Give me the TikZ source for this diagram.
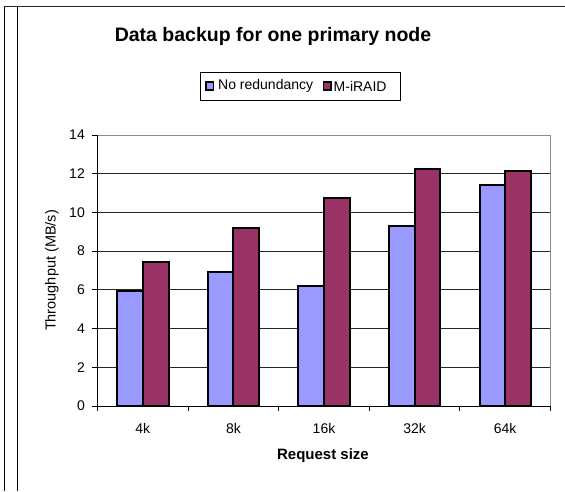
\documentclass[tikz,border=0pt]{standalone}
\usepackage{fontspec}
\setmainfont{Liberation Sans}
\definecolor{barblue}{HTML}{9999FF}
\definecolor{barred}{HTML}{993366}
\begin{document}
\begin{tikzpicture}[x=1pt,y=-1pt,
  gridline/.style={line width=0.9pt, black!85},
  barbox/.style={draw=black, line width=2pt},
  ticklab/.style={font=\fontsize{14}{16}\selectfont, inner sep=0pt},
  axistitle/.style={font=\bfseries\fontsize{15}{17}\selectfont, inner sep=0pt},
  legtext/.style={font=\fontsize{14}{16}\selectfont, inner sep=0pt, anchor=west},
  legkey/.style={draw=black, line width=1.5pt}
]
\useasboundingbox (0,0) rectangle (565,491);
% outer frame lines
\draw[line width=1pt] (4,6) -- (4,491);
\draw[line width=1pt] (17,6) -- (17,491);
\draw[line width=1.8pt, black!85] (4,6.5) -- (565,6.5);

% title
\node[font=\bfseries\fontsize{19.5}{22}\selectfont, inner sep=0pt] (title) at (273,36) {Data backup for one primary node};

% legend
\draw[line width=0.8pt] (200,72.5) rectangle (400,100);
\draw[legkey, fill=barblue] (206,82) rectangle (213.5,90);
\node[legtext] (l1) at (218,86) {No redundancy};
\draw[legkey, fill=barred] (323.5,82) rectangle (331,90);
\node[legtext] (l2) at (333.5,86) {M-iRAID};

% gridlines
\foreach \v in {2,4,...,12} \draw[gridline] (97.5,{406-\v*19.357}) -- (550.5,{406-\v*19.357});
\draw[black!45, line width=1pt] (97.5,135) -- (550.5,135) -- (550.5,406);

% bars
\foreach \i/\a/\b in {0/5.96/7.44, 1/6.94/9.18, 2/6.21/10.72, 3/9.30/12.24, 4/11.41/12.15}{
  \pgfmathsetmacro{\c}{97.5+90.6*\i+45.3}
  \draw[barbox, fill=barblue] ({\c-25.7},406) rectangle (\c,{406-\a*19.357});
  \draw[barbox, fill=barred] (\c,406) rectangle ({\c+25.7},{406-\b*19.357});
}

% axes
\draw[line width=1pt] (97.5,135) -- (97.5,406) -- (550.5,406);
\foreach \v in {0,...,7} \draw[line width=1pt] (92,{406-2*\v*19.357}) -- (97.5,{406-2*\v*19.357});
\foreach \i in {0,...,5} \draw[line width=1pt] ({97.5+90.6*\i},406) -- ({97.5+90.6*\i},411);

% y labels
\foreach \v in {0,2,...,14} \node[ticklab, anchor=east] (y\v) at (85,{406-\v*19.357}) {\v};
% x labels
\foreach \i/\t in {0/4k,1/8k,2/16k,3/32k,4/64k} \node[ticklab] (x\i) at ({97.5+90.6*\i+45.3},428) {\t};

% axis titles
\node[axistitle] (xt) at (323,456) {Request size};
\node[font=\fontsize{14.5}{16}\selectfont, inner sep=0pt, rotate=90] (yt) at (52,270.5) {Throughput (MB/s)};
\end{tikzpicture}
\end{document}
